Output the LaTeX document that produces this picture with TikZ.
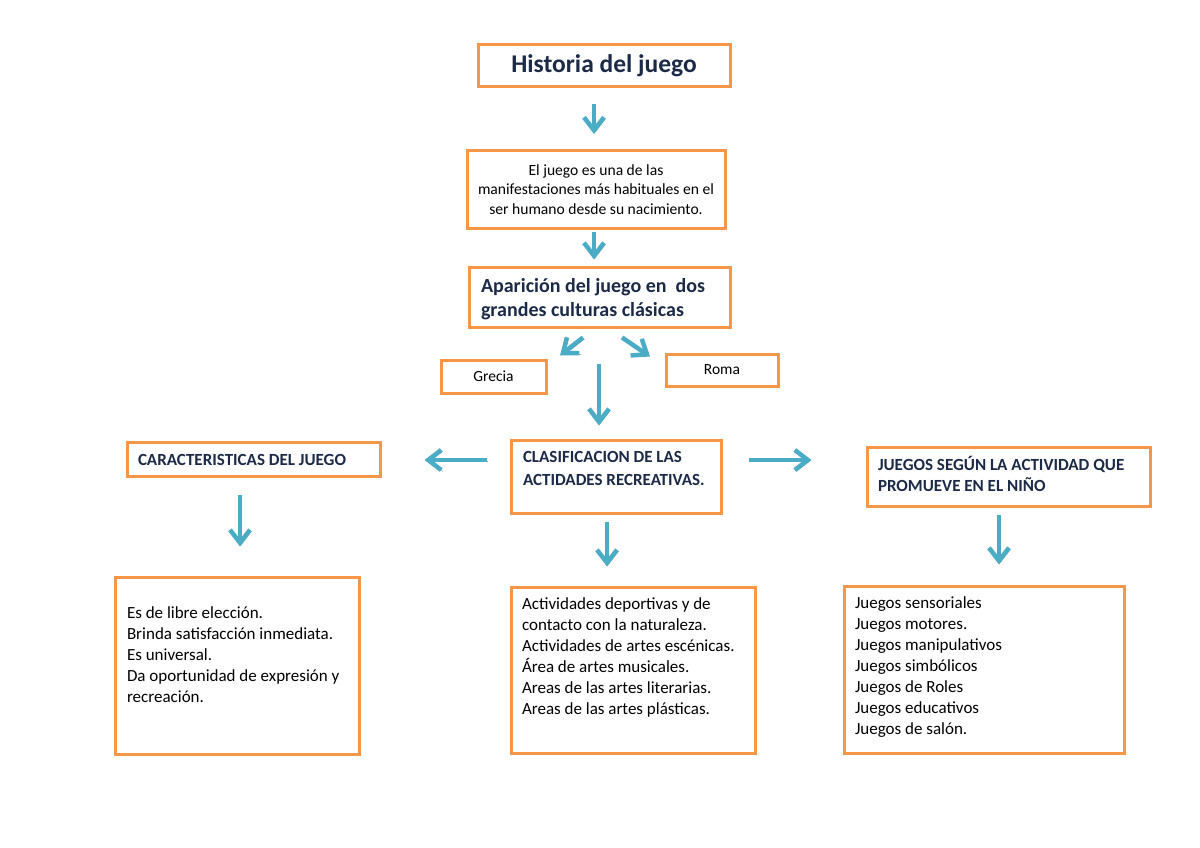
\documentclass[tikz,border=0pt]{standalone}
\usepackage{fontspec}
\setmainfont{Carlito}
\usetikzlibrary{arrows.meta,calc}
\definecolor{orng}{HTML}{F79646}
\definecolor{blu}{HTML}{4BACC6}
\definecolor{navy}{HTML}{1C2A48}
\definecolor{shad}{HTML}{909090}
\newcommand{\boxtext}[5]{\begin{minipage}[c][#2][t]{#1}\vspace*{#3}\raggedright\leftskip=#4\relax #5\end{minipage}}
\begin{document}
\begin{tikzpicture}[x=1pt,y=-1pt,
  box/.style={draw=orng, line width=3pt, rectangle, inner sep=0pt, fill=white},
  cbox/.style={box, align=center},
  arr/.style={draw=blu, line width=4.5pt, line cap=butt,
    -{Straight Barb[length=13pt,width=20pt,line cap=butt]},
    preaction={draw=shad, transform canvas={xshift=1.5pt,yshift=-1.5pt}}},
  head/.style={font=\fontsize{17}{21}\selectfont\bfseries, text=navy},
  body/.style={font=\fontsize{17}{21}\selectfont, text=black}]
\useasboundingbox[fill=white] (0,0) rectangle (1200,848);

\node[cbox, minimum width=252pt, minimum height=42pt, text=navy,
  font=\fontsize{25.5}{30}\selectfont\bfseries] (hist) at (604,66) {Historia del juego};
\node[cbox, minimum width=258pt, minimum height=78pt,
  font=\fontsize{15.6}{19.3}\selectfont] (eljuego) at (596,189.5)
  {El juego es una de las\\manifestaciones más habituales en el\\ser humano desde su nacimiento.};
\node[box, text=navy, font=\fontsize{20}{24}\selectfont\bfseries] (apar) at (599.5,297)
  {\boxtext{261pt}{60pt}{11pt}{12pt}{Aparición del juego en\ \ dos\\grandes culturas clásicas}};
\node[cbox, minimum width=105pt, minimum height=33pt, font=\fontsize{15.5}{18}\selectfont] (grecia) at (493.5,376.5) {Grecia};
\node[cbox, minimum width=112pt, minimum height=32pt, font=\fontsize{15.5}{18}\selectfont] (roma) at (722,370) {Roma};

\node[box, head] (caract) at (253.5,459)
  {\boxtext{253pt}{34pt}{12pt}{11pt}{CARACTERISTICAS DEL JUEGO}};
\node[box, head, font=\fontsize{17}{23}\selectfont\bfseries] (clasif) at (616,476.5)
  {\boxtext{210pt}{73pt}{11.5pt}{12pt}{CLASIFICACION DE LAS\\ACTIDADES RECREATIVAS.}};
\node[box, head] (juegos) at (1008.5,476.5)
  {\boxtext{283pt}{59pt}{9.5pt}{11pt}{JUEGOS SEGÚN LA ACTIVIDAD QUE\\PROMUEVE EN EL NIÑO}};

\node[box, body] (car) at (237,665.5)
  {\boxtext{244pt}{177pt}{30pt}{12pt}{Es de libre elección.\\Brinda satisfacción inmediata.\\Es universal.\\Da oportunidad de expresión y\\recreación.}};
\node[box, body] (act) at (633,670)
  {\boxtext{244pt}{166pt}{10.5pt}{11pt}{Actividades deportivas y de\\contacto con la naturaleza.\\Actividades de artes escénicas.\\Área de artes musicales.\\Areas de las artes literarias.\\Areas de las artes plásticas.}};
\node[box, body] (jue) at (984,669.5)
  {\boxtext{280pt}{167pt}{10.5pt}{11pt}{Juegos sensoriales\\Juegos motores.\\Juegos manipulativos\\Juegos simbólicos\\Juegos de Roles\\Juegos educativos\\Juegos de salón.}};

\draw[arr] ($(hist.south)+(-10,16)$) -- ($(eljuego.north)+(-2,-15)$);
\draw[arr] ($(eljuego.south)+(-2,2)$) -- ($(apar.north)+(-5.5,-6)$);
\draw[arr] ($(apar.south)+(-16.5,9)$) -- ($(grecia.north)+(66.5,-3)$);
\draw[arr] ($(apar.south)+(22.5,9)$) -- ($(roma.north)+(-72,4)$);
\draw[arr] ($(apar.south)+(-0.5,35)$) -- ($(clasif.north)+(-17,-13)$);
\draw[arr] ($(clasif.west)+(-23,-16.5)$) -- ($(caract.east)+(43,1)$);
\draw[arr] ($(clasif.east)+(26,-16.5)$) -- ($(juegos.west)+(-54,-16.5)$);
\draw[arr] ($(caract.south)+(-13.5,17)$) -- ($(car.north)+(3,-29)$);
\draw[arr] ($(clasif.south)+(-9,7)$) -- ($(act.north)+(-26,-19)$);
\draw[arr] ($(juegos.south)+(-9.5,7)$) -- ($(jue.north)+(15,-20)$);
\end{tikzpicture}
\end{document}
